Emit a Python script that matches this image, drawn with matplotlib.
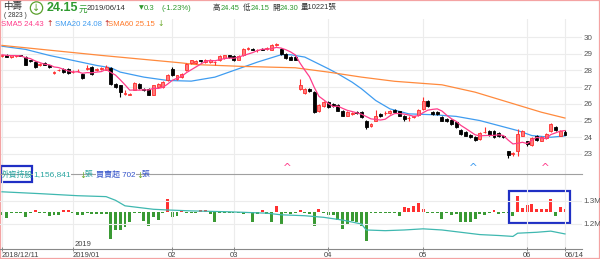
import numpy as np
import pandas as pd
import matplotlib
matplotlib.use("Agg")
import matplotlib.pyplot as plt
from matplotlib.patches import Rectangle

plt.rcParams['font.family'] = ['Liberation Sans', 'Noto Sans CJK TC', 'DejaVu Sans']

# --- data (2823, 2018/12/11 - 2019/06/14) ---
tick_pos = [0, 15, 36, 49, 69, 89, 111, 119]
tick_labels = ['2018/12/11', '2019/01', '02', '03', '04', '05', '06', '06/14']

opens = [28.85, 28.95, 28.80, 28.85, 28.90, 28.80, 28.60, 28.50, 28.30, 28.45,
         28.30, 27.85, 28.00, 28.10, 28.10, 27.90, 27.95, 27.80, 28.10, 28.20,
         28.00, 28.10, 28.05, 28.15, 27.20, 27.10, 26.60, 26.55, 26.85, 27.20,
         26.90, 26.90, 26.55, 27.00, 27.00, 27.40, 28.10, 27.50, 27.60, 28.00,
         28.45, 28.45, 28.60, 28.50, 28.50, 28.50, 28.60, 28.75, 28.90, 28.85,
         28.65, 28.90, 29.30, 29.30, 29.20, 29.30, 29.30, 29.25, 29.50, 29.30,
         29.00, 28.80, 28.80, 26.90, 26.65, 26.90, 26.70, 25.55, 25.85, 26.10,
         26.00, 25.95, 25.60, 25.30, 25.40, 25.50, 25.50, 25.00, 24.65, 25.00,
         25.40, 25.45, 25.45, 25.65, 25.55, 25.30, 25.15, 25.20, 25.35, 25.70,
         26.20, 25.50, 25.50, 25.20, 25.10, 25.05, 24.90, 24.45, 24.30, 24.15,
         24.00, 23.90, 24.30, 24.40, 24.40, 24.25, 24.10, 23.15, 23.00, 23.20,
         24.10, 23.75, 23.55, 24.10, 23.80, 23.95, 24.35, 24.60, 24.10, 24.30]
highs = [28.95, 29.00, 28.95, 28.95, 28.95, 28.85, 28.65, 28.55, 28.45, 28.50,
         28.35, 27.95, 28.10, 28.15, 28.15, 28.00, 28.10, 27.85, 28.30, 28.25,
         28.15, 28.20, 28.35, 28.20, 27.25, 27.15, 26.80, 26.65, 27.30, 27.25,
         26.95, 26.95, 27.15, 27.25, 27.35, 27.80, 28.20, 27.75, 27.85, 28.45,
         28.65, 28.60, 28.65, 28.70, 28.70, 28.55, 28.90, 28.95, 28.95, 28.90,
         28.90, 29.35, 29.40, 29.35, 29.30, 29.35, 29.40, 29.60, 29.65, 29.35,
         29.05, 28.85, 28.85, 27.50, 26.95, 26.95, 26.75, 26.00, 26.15, 26.15,
         26.05, 26.00, 25.65, 25.55, 25.50, 25.55, 25.55, 25.05, 24.85, 25.65,
         25.45, 25.55, 25.65, 25.70, 25.60, 25.35, 25.25, 25.30, 25.70, 26.40,
         26.25, 25.55, 25.55, 25.25, 25.15, 25.10, 24.95, 24.50, 24.35, 24.20,
         24.05, 24.30, 24.60, 24.45, 24.45, 24.30, 24.15, 23.20, 23.10, 24.50,
         24.45, 23.80, 24.00, 24.15, 24.05, 24.25, 24.85, 24.70, 24.45, 24.45]
lows = [28.80, 28.80, 28.75, 28.80, 28.85, 28.30, 28.50, 28.15, 28.25, 28.35,
        28.15, 27.80, 27.95, 27.85, 27.80, 27.85, 27.90, 27.50, 28.00, 27.75,
        27.95, 28.05, 28.00, 27.15, 26.95, 26.40, 26.50, 26.50, 26.80, 26.90,
        26.75, 26.50, 26.50, 26.95, 26.95, 27.35, 27.65, 27.45, 27.55, 27.95,
        28.40, 28.40, 28.50, 28.45, 28.45, 28.30, 28.55, 28.70, 28.75, 28.55,
        28.60, 28.85, 29.25, 29.20, 29.10, 29.20, 29.25, 29.20, 29.45, 28.95,
        28.70, 28.60, 28.60, 26.85, 26.60, 26.70, 25.45, 25.50, 25.80, 25.75,
        25.80, 25.55, 25.25, 25.25, 25.35, 25.40, 25.15, 24.50, 24.60, 24.95,
        25.20, 25.35, 25.40, 25.45, 25.25, 24.95, 25.00, 25.15, 25.30, 25.65,
        25.80, 25.35, 25.35, 24.95, 24.90, 24.75, 24.55, 24.15, 24.05, 23.95,
        23.80, 23.85, 24.25, 24.10, 23.95, 24.00, 23.95, 22.75, 22.90, 22.90,
        24.05, 23.45, 23.50, 23.80, 23.75, 23.90, 24.30, 24.40, 24.05, 24.15]
closes = [28.90, 28.80, 28.90, 28.90, 28.85, 28.35, 28.55, 28.20, 28.40, 28.35,
          28.20, 27.90, 28.00, 27.90, 27.85, 27.90, 27.95, 27.55, 28.10, 27.80,
          28.10, 28.10, 28.20, 27.20, 27.00, 26.70, 26.60, 26.60, 27.25, 26.95,
          26.80, 26.55, 27.10, 27.20, 27.30, 27.75, 27.70, 27.70, 27.80, 28.40,
          28.60, 28.55, 28.55, 28.65, 28.65, 28.50, 28.85, 28.90, 28.80, 28.60,
          28.85, 29.30, 29.35, 29.25, 29.20, 29.25, 29.30, 29.55, 29.60, 29.00,
          28.75, 28.65, 28.65, 27.15, 26.90, 26.75, 25.50, 25.95, 26.10, 25.80,
          25.85, 25.60, 25.30, 25.50, 25.45, 25.45, 25.20, 24.60, 24.80, 25.30,
          25.25, 25.45, 25.60, 25.50, 25.30, 25.10, 25.15, 25.25, 25.65, 26.20,
          25.85, 25.40, 25.40, 25.00, 24.95, 24.80, 24.60, 24.20, 24.10, 24.00,
          23.85, 24.25, 24.30, 24.15, 24.00, 24.05, 24.00, 22.95, 23.00, 24.20,
          24.35, 23.60, 23.95, 23.85, 24.00, 24.20, 24.80, 24.45, 24.40, 24.15]
# closes before the window, needed for the first SMA5 values
pre_closes = [29.00, 28.95, 28.90, 28.95]

# SMA20 / SMA60 (day index, value)
sma20_idx = [0, 5, 10, 15, 20, 23, 25, 30, 35, 40, 45, 49, 54, 59, 61, 64, 69, 71,
             74, 76, 79, 82, 86, 91, 96, 101, 105, 109, 112, 116, 119]
sma20_val = [29.45, 29.26, 28.90, 28.60, 28.30, 28.16, 27.90, 27.60, 27.40, 27.36,
             27.60, 28.00, 28.50, 28.94, 28.94, 28.80, 28.10, 27.80, 27.30, 26.90,
             26.20, 25.70, 25.40, 25.35, 25.25, 25.00, 24.70, 24.40, 24.10, 24.00, 24.08]
sma60_idx = [0, 21, 38, 41, 51, 62, 69, 76, 83, 93, 100, 107, 114, 119]
sma60_val = [29.50, 28.90, 28.45, 28.35, 28.24, 28.16, 27.90, 27.60, 27.35, 27.14,
             26.70, 26.10, 25.50, 25.15]

# foreign investors: daily net buy/sell (lots) and holdings (lots)
net_buy = [-1100, -2100, -600, -600, -600, -1700, -600, 400, -600, -600,
           -1400, -1100, -1100, 500, 500, -600, -1100, -1100, -600, -800,
           -800, -800, -800, -9100, -6300, -6000, -5300, -3500, -600, -600,
           -3100, -4900, -1700, -2800, -600, 4200, -1700, -1400, 500, -600,
           -600, -600, 500, 500, -700, -3500, -600, -400, -600, -600,
           -600, -700, -600, -3500, -700, 500, -700, -3500, 1700, -4200,
           -600, -700, -600, 500, -600, -700, -4900, 700, -600, -1100,
           -1100, -2800, -5900, -4200, -3100, -3500, -4900, -9800, -600, -600,
           -600, -600, -600, -600, -1400, 1400, 1100, 1700, 2800, 800,
           -600, -600, -600, -2500, -600, -1100, -700, -3500, -3500, -3500,
           -2500, -700, -1100, -600, 500, -700, -600, -600, -1400, 5300,
           1100, 2100, 2500, 700, 700, 700, 4200, -1400, 1400, 702]
hold_idx = [0, 8, 16, 22, 24, 26, 28, 32, 35, 40, 48, 56, 59, 64, 68, 72, 76, 77,
            81, 85, 89, 93, 97, 101, 105, 108, 109, 113, 116, 119]
hold_val = [1340000, 1332000, 1323000, 1319000, 1303000, 1279000, 1274000, 1264000,
            1261000, 1257000, 1253000, 1247000, 1240000, 1236000, 1229000, 1217000,
            1200000, 1174000, 1171000, 1174000, 1179000, 1174000, 1164000, 1154000,
            1150000, 1146000, 1160000, 1164000, 1169000, 1156841]

W, H = 600, 259
fig = plt.figure(figsize=(W / 100, H / 100), dpi=100)
ARROW_FONT = ['DejaVu Sans']


# Function to add axes given pixel box (x0, y0 top, x1, y1 bottom)
def pxAxes(x0, y0, x1, y1):
    return fig.add_axes([x0 / W, 1 - y1 / H, (x1 - x0) / W, (y1 - y0) / H])


# Function to write text at pixel position
def label(x, y, s, size=5.8, color='#333333', **kw):
    return fig.text(x / W, 1 - y / H, s, fontsize=size, color=color, va='center', **kw)


RED, GREEN, BLACK = '#ff2d2d', '#3a9a34', '#000000'
GRID = '#ececec'
XLIM = (-0.42, 122.6)

# ---- price panel ----
ax = pxAxes(0, 19, 582, 174)
idx = np.arange(len(closes))
o, h, l, c = map(np.array, (opens, highs, lows, closes))
up = c >= o
ax.vlines(idx, l, h, colors=np.where(up, RED, BLACK), lw=0.8, zorder=3)
ax.bar(idx, np.maximum(np.abs(c - o), 0.03), bottom=np.minimum(o, c), width=0.62,
       color=np.where(up, '#ff7a7a', BLACK), edgecolor=np.where(up, RED, BLACK),
       linewidth=0.6, zorder=4)

sma5 = pd.Series(pre_closes + closes).rolling(5).mean().iloc[len(pre_closes):].values
ax.plot(idx, sma5, color='#ff3d8b', lw=0.9, zorder=5)
ax.plot(sma20_idx, sma20_val, color='#3f9cf0', lw=0.9, zorder=2)
ax.plot(sma60_idx, sma60_val, color='#ff8a3d', lw=0.9, zorder=2)

# crossover marks
for xi, col in [(60.3, '#ff3d8b'), (99.6, '#3f9cf0'), (114.8, '#ff3d8b')]:
    ax.text(xi, 22.15, '^', color=col, fontsize=7.5, ha='center', va='center',
            family=ARROW_FONT)

ax.set_xlim(*XLIM)
ax.set_ylim(21.8, 31.08)
ax.set_yticks(range(23, 31))
ax.yaxis.tick_right()
ax.tick_params(axis='y', length=0, pad=1, labelsize=5.8, labelcolor='#555555')
ax.set_xticks(tick_pos)
ax.tick_params(axis='x', length=0, labelbottom=False)
ax.grid(True, color=GRID, lw=0.8)
ax.set_axisbelow(True)
for s in ax.spines.values():
    s.set_visible(False)

# ---- foreign holdings panel ----
axv = pxAxes(0, 174, 582, 249)
axb = axv.twinx()
axv.plot(hold_idx, hold_val, color='#3fb8b0', lw=0.9, zorder=3)
axv.set_ylim(1091304, 1417391)
axv.set_yticks([1200000, 1300000])
axv.set_yticklabels(['1.2M', '1.3M'])
axv.yaxis.tick_right()
axv.tick_params(axis='y', length=0, pad=1, labelsize=5.8, labelcolor='#555555')
axv.set_xlim(*XLIM)
axv.set_xticks(tick_pos)
axv.set_xticklabels(tick_labels)
axv.tick_params(axis='x', length=3, direction='inout', width=0.6, color='#777777',
                labelsize=5.5, labelcolor='#444444', pad=1)
for i, t in enumerate(axv.get_xticklabels()):
    t.set_ha('left' if i in (0, 1, 7) else 'center')
axv.grid(True, color=GRID, lw=0.8)
axv.set_axisbelow(True)
for k in ('left', 'right'):
    axv.spines[k].set_visible(False)
axv.spines['bottom'].set_color('#888888')
axv.spines['top'].set_color('#a0a0a0')
axv.spines['top'].set_linewidth(0.8)

net = np.array(net_buy)
axb.bar(idx, net, width=0.62, color=np.where(net > 0, '#ff3030', '#3a9a34'), zorder=2)
axb.set_ylim(-12500, 12500)
axb.set_yticks([])
for s in axb.spines.values():
    s.set_visible(False)
axb.set_xlim(*XLIM)
axv.set_zorder(axb.get_zorder() + 1)
axv.patch.set_visible(False)

label(75, 245, '2019', size=5.5, color='#444444')

# ---- header ----
label(3, 7, '中壽', size=6.8)
label(4, 15.5, '( 2823 )', size=4.8)
label(36.5, 8, '↓', size=7, color='#5aa02c', ha='center', family=ARROW_FONT,
      bbox=dict(boxstyle='circle,pad=0.12', fc='white', ec='#5aa02c', lw=0.9))
label(47, 8, '24.15', size=9, color='#2f9a2f', weight='bold')
label(79, 9, '元', size=6.2, color='#2f9a2f')
label(87, 8, '2019/06/14', size=5.6)
label(139, 8, '▼', size=4.5, color='#2f9a2f', family=ARROW_FONT)
label(144, 8, '0.3', size=5.6, color='#2f9a2f')
label(162, 8, '(-1.23%)', size=5.6, color='#2f9a2f')
items = [(213, '高', '24.45'), (243, '低', '24.15'), (272, '開', '24.30')]
for x, k, v in items:
    label(x, 8, k, size=5.4)
    label(x + 7.5, 8, v, size=5.4, color='#2f9a2f')
label(301, 8, '量10221張', size=5.4)

label(1, 24, 'SMA5 24.43', size=5.6, color='#ff3d8b')
label(46, 24, '↑', size=5.6, color='#c0201e', family=ARROW_FONT)
label(55, 24, 'SMA20 24.08', size=5.6, color='#3f9cf0')
label(103, 24, '↑', size=5.6, color='#c0201e', family=ARROW_FONT)
label(108, 24, 'SMA60 25.15', size=5.6, color='#ff7a2a')
label(157, 24, '↓', size=5.6, color='#6aa82a', family=ARROW_FONT)

label(2, 174.5, '外資持股', size=5.6, color='#2aa5a0')
label(33, 174.5, '1,156,841', size=6, color='#2aa5a0',
      bbox=dict(boxstyle='square,pad=0.05', fc='white', ec='none'))
label(79, 175, '↓', size=6, color='#6aa82a', family=ARROW_FONT)
label(85, 174.5, '張', size=5.6, color='#2aa5a0')
label(96, 174.5, '買賣超 702', size=5.8, color='#3050c8',
      bbox=dict(boxstyle='square,pad=0.05', fc='white', ec='none'))
label(136, 175, '↓', size=6, color='#6aa82a', family=ARROW_FONT)
label(142, 174.5, '張', size=5.6, color='#3050c8')

# highlight boxes and outer border
for (x0, y0, x1, y1) in [(0.8, 166, 32, 182), (509, 191, 570, 223)]:
    fig.add_artist(Rectangle((x0 / W, 1 - y1 / H), (x1 - x0) / W, (y1 - y0) / H,
                             transform=fig.transFigure, fill=False, ec='#1f2fc4', lw=1.6))
fig.add_artist(Rectangle((0, 0), 1, 1, transform=fig.transFigure, fill=False,
                         ec='#f4a3a3', lw=1.6))

fig.savefig('out.png', dpi=100)
